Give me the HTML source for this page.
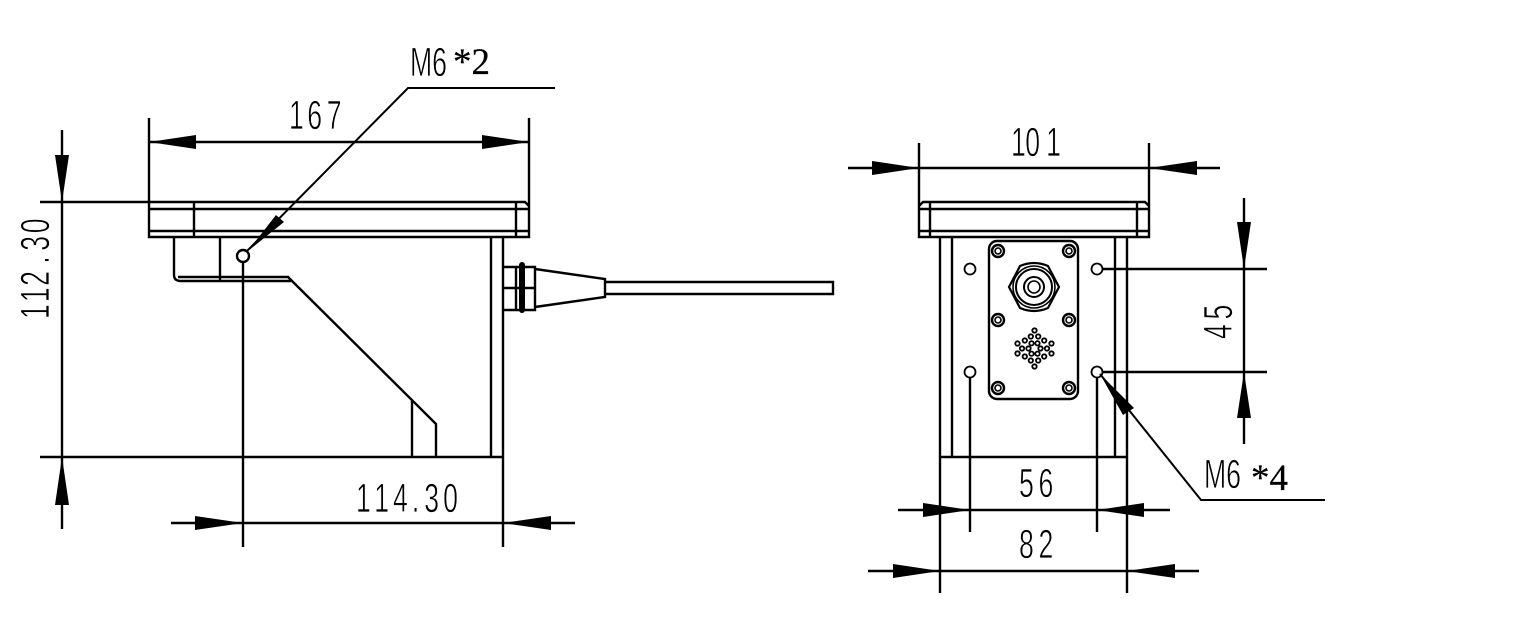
<!DOCTYPE html>
<html>
<head>
<meta charset="utf-8">
<style>
html,body{margin:0;padding:0;background:#fff;width:1522px;height:625px;overflow:hidden}
svg{display:block}
.l{fill:none;stroke:#000;stroke-width:2.4}
.t{fill:none;stroke:#000;stroke-width:2}
text{font-family:"Liberation Sans",sans-serif;fill:#000;font-size:41px;stroke:#fff;stroke-width:.7}
.s{font-family:"Liberation Serif",serif;font-size:37px;stroke:#000;stroke-width:.25}
</style>
</head>
<body>
<svg width="1522" height="625" viewBox="0 0 1522 625" xmlns="http://www.w3.org/2000/svg">
<rect width="1522" height="625" fill="#fff"/>

<!-- LEFT VIEW -->
<g class="l">
  <path d="M40 202H525L529 206V237H149V118M529 206V118"/>
  <path d="M149 209H529M149 231H529M194 202V237M516 202V237"/>
  <path d="M174 237V275Q174 281 181 281H291M178 277H288L436 424V457M220 237V281M412 400V457"/>
  <path d="M40 457H503M491 237V457M503 237V547"/>
  <!-- connector -->
  <path d="M503 267H535V310H503M503 288H535M516 267V310M535 269L605 279V297L535 307M605 282H833V294H605"/>
</g>
<rect x="519" y="262" width="6" height="51" rx="3" fill="#000"/>
<circle cx="243" cy="256" r="6" class="l"/>

<!-- left dims -->
<g class="l">
  <path d="M149 142H529"/>
  <path d="M62 130V529"/>
  <path d="M171 523H575M243 262V547"/>
</g>
<path class="t" d="M555 88H408L247 251"/>
<g fill="#000">
  <path d="M149 142L196 135V149Z"/>
  <path d="M529 142L482 135V149Z"/>
  <path d="M62 202L55 155H69Z"/>
  <path d="M62 457L55 505H69Z"/>
  <path d="M243 523L195 516V530Z"/>
  <path d="M503 523L551 516V530Z"/>
  <path d="M248 251L276 215L284 222Z"/>
</g>
<text transform="translate(289 129) scale(.65 1)" x="0 28 58" y="0">167</text>
<text transform="translate(356 512) scale(.65 1)" x="0 28 57 86 105 134" y="0">114.30</text>
<text transform="translate(49 321) rotate(-90) scale(.65 1)" x="3 29 54 88 108 135" y="0">112.30</text>
<text transform="translate(410 76) scale(.65 1)" x="0 34" y="0">M6</text>
<text class="s" x="453" y="74">*2</text>

<!-- RIGHT VIEW -->
<g class="l">
  <path d="M919 143V206L923 202H1145L1149 206V143M919 206V237H1149V206"/>
  <path d="M919 209H1149M919 231H1149M930 202V237M1137 202V237"/>
  <path d="M940 237V593M952 237V457M1115 237V457M1127 237V593M940 457H1127"/>
  <rect x="989" y="241" width="89" height="158" rx="8"/>
</g>
<g class="l" style="stroke-width:1.8">
  <circle cx="970" cy="269" r="5.5"/>
  <circle cx="1097" cy="269" r="5.5"/>
  <circle cx="970" cy="372" r="5.5"/>
  <circle cx="1097" cy="372" r="5.5"/>
</g>
<!-- screws -->
<g fill="none" stroke="#000">
  <g stroke-width="2.4"><circle cx="998" cy="251" r="6"/><circle cx="1069" cy="251" r="6"/><circle cx="998" cy="320" r="6"/><circle cx="1069" cy="320" r="6"/><circle cx="998" cy="388" r="6"/><circle cx="1069" cy="388" r="6"/></g>
  <g stroke-width="1.6"><circle cx="998" cy="251" r="3"/><circle cx="1069" cy="251" r="3"/><circle cx="998" cy="320" r="3"/><circle cx="1069" cy="320" r="3"/><circle cx="998" cy="388" r="3"/><circle cx="1069" cy="388" r="3"/></g>
  <!-- gland -->
  <path stroke-width="2.2" d="M1009 287L1020 266Q1034 260 1048 266L1059 287L1048 308Q1034 314 1020 308Z"/>
  <circle stroke-width="1.6" cx="1034" cy="287" r="21"/>
  <circle stroke-width="2" cx="1034" cy="287" r="18"/>
  <circle stroke-width="2" cx="1034" cy="287" r="10"/>
  <circle stroke-width="1.6" cx="1034" cy="287" r="6"/>
</g>
<!-- speaker holes -->
<g fill="none" stroke="#000" stroke-width="1.8" transform="translate(1034.5 348.5)">
  <circle cx="6" r="2.2"/><circle cx="3" cy="5.2" r="2.2"/><circle cx="-3" cy="5.2" r="2.2"/><circle cx="-6" r="2.2"/><circle cx="-3" cy="-5.2" r="2.2"/><circle cx="3" cy="-5.2" r="2.2"/>
  <circle cx="12.5" r="2.2"/><circle cx="9.7" cy="8" r="2.2"/><circle cx="3.7" cy="12" r="2.2"/><circle cx="-3.7" cy="12" r="2.2"/><circle cx="-9.7" cy="8" r="2.2"/><circle cx="-12.5" r="2.2"/><circle cx="-9.7" cy="-8" r="2.2"/><circle cx="-3.7" cy="-12" r="2.2"/><circle cx="3.7" cy="-12" r="2.2"/><circle cx="9.7" cy="-8" r="2.2"/>
  <circle cx="17" cy="5" r="2.2"/><circle cx="-17" cy="5" r="2.2"/><circle cx="-17" cy="-5" r="2.2"/><circle cx="17" cy="-5" r="2.2"/><circle cy="18" r="2.2"/><circle cy="-18" r="2.2"/>
</g>

<!-- right dims -->
<g class="l">
  <path d="M848 168H1220"/>
  <path d="M1244 198V444M1103 269H1267M1103 372H1267"/>
  <path d="M898 510H1170M970 378V532M1097 378V532"/>
  <path d="M868 571H1199"/>
</g>
<path class="t" d="M1325 500H1201L1100 374"/>
<g fill="#000">
  <path d="M919 168L872 161V175Z"/>
  <path d="M1149 168L1197 161V175Z"/>
  <path d="M1244 269L1237 222H1251Z"/>
  <path d="M1244 372L1237 418H1251Z"/>
  <path d="M970 510L923 503V517Z"/>
  <path d="M1097 510L1144 503V517Z"/>
  <path d="M940 571L893 564V578Z"/>
  <path d="M1127 571L1175 564V578Z"/>
  <path d="M1100 374L1134 408L1123 415Z"/>
</g>
<text transform="translate(1011 156) scale(.65 1)" x="0 22 54" y="0">101</text>
<text transform="translate(1019 497) scale(.65 1)" x="0 30" y="0">56</text>
<text transform="translate(1019 558) scale(.65 1)" x="0 30" y="0">82</text>
<text transform="translate(1232 339) rotate(-90) scale(.65 1)" x="0 30" y="0">45</text>
<text transform="translate(1204 488) scale(.65 1)" x="0 34" y="0">M6</text>
<text class="s" x="1251" y="490">*4</text>
</svg>
</body>
</html>
